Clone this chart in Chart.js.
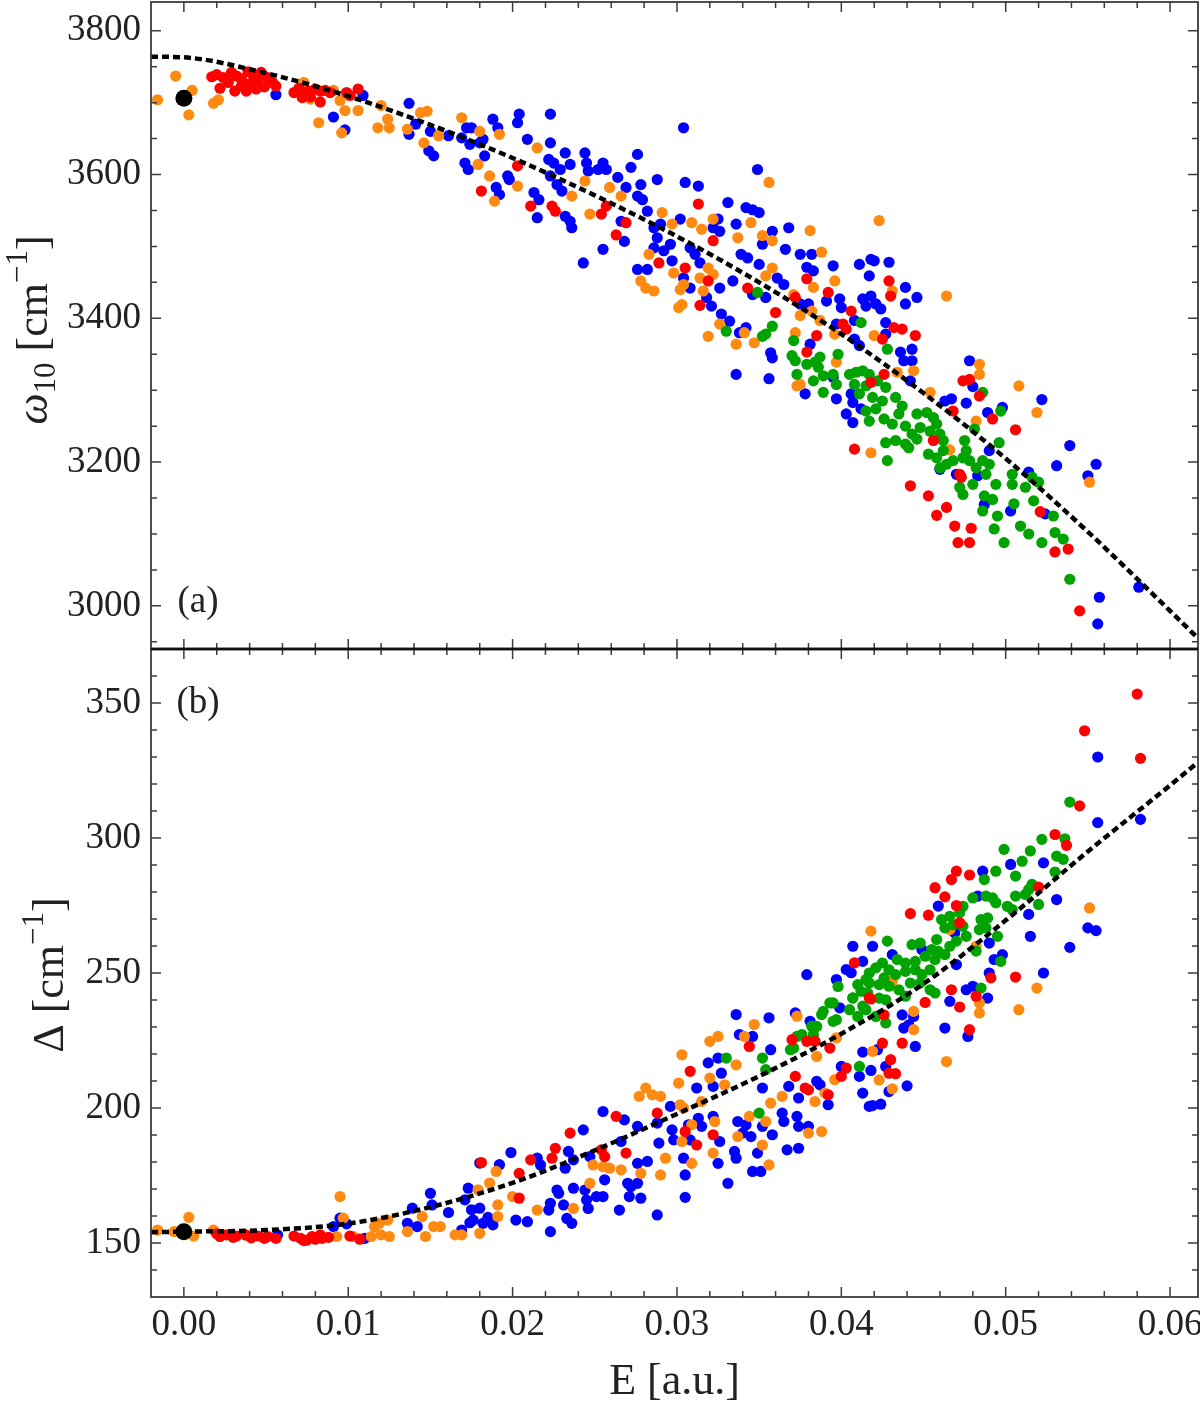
<!DOCTYPE html>
<html>
<head>
<meta charset="utf-8">
<script src="https://cdn.jsdelivr.net/npm/chart.js@4.4.1/dist/chart.umd.min.js"></script>
<style>
  html, body { margin:0; padding:0; background:#fff; overflow:hidden; }
  #wrap { position:relative; width:1200px; height:1401px; }
  canvas { position:absolute; left:0; }
  #top { top:0; }
  #bot { top:647px; }
</style>
</head>
<body>
<div id="wrap">
  <canvas id="top" width="1200" height="651"></canvas>
  <canvas id="bot" width="1200" height="754"></canvas>
</div>
<script>
// ── Shared look ─────────────────────────────────────
const SERIF = '"Liberation Serif", "Times New Roman", serif';
const INK = "#222";
const FRAME = "#3c3c3c";

// ── Axes / ticks ───────────────────────────────────
const X_MIN = -0.002, X_MAX = 0.0617;
const xMajor = [0, 0.01, 0.02, 0.03, 0.04, 0.05, 0.06];
const xMinor = [0.002,0.004,0.006,0.008,0.012,0.014,0.016,0.018,0.022,0.024,0.026,0.028,
                0.032,0.034,0.036,0.038,0.042,0.044,0.046,0.048,0.052,0.054,0.056,0.058];

const topMajor = [3000, 3200, 3400, 3600, 3800];
const topMinor = [2950,3050,3100,3150,3250,3300,3350,3450,3500,3550,3650,3700,3750];
const botMajor = [150, 200, 250, 300, 350];
const botMinor = [140,160,170,180,190,210,220,230,240,260,270,280,290,310,320,330,340,360];

// ── (a) ω10 vs E ───────────────────────────────────
const fitE = [-0.002, 0, 0.005, 0.01, 0.015, 0.02, 0.025, 0.03, 0.035, 0.04, 0.045, 0.05, 0.055, 0.06, 0.0617];
const topFit = [3764, 3763, 3741, 3709, 3669, 3623, 3571, 3514, 3450, 3378, 3296, 3205, 3103, 2993, 2955];
const topBlack = [[0, 3706]];

const topRed = [
[0.0017,3736],[0.0020,3739],[0.0024,3735],[0.0029,3742],[0.0032,3737],[0.0035,3733],[0.0039,3743],[0.0042,3739],
[0.0045,3731],[0.0047,3742],[0.0051,3735],[0.0054,3728],[0.0022,3720],[0.0031,3716],[0.0035,3723],[0.0040,3726],
[0.0044,3719],[0.0049,3722],[0.0056,3723],[0.0038,3716],[0.0027,3728],
[0.0067,3714],[0.0070,3720],[0.0073,3712],[0.0076,3716],[0.0080,3719],[0.0083,3716],[0.0086,3717],[0.0089,3714],
[0.0072,3707],[0.0077,3708],[0.0083,3701],[0.0099,3714],[0.0106,3719],[0.0101,3710],
[0.0203,3612],[0.0181,3577],[0.0211,3556],[0.0224,3556],[0.0226,3549],[0.0254,3545],[0.0257,3556],[0.0269,3533],
[0.0263,3516],[0.0313,3559],[0.0322,3508],[0.0289,3477],[0.0305,3470],[0.0319,3452],[0.0343,3442],[0.0314,3418],
[0.0360,3408],[0.0372,3429],
[0.0429,3452],[0.0430,3431],[0.0432,3387],[0.0437,3385],[0.0445,3376],[0.0425,3371],[0.0406,3410],[0.0401,3392],
[0.0403,3385],[0.0418,3311],[0.0426,3322],[0.0474,3313],[0.0478,3315],[0.0484,3292],[0.0492,3260],[0.0506,3245],
[0.0468,3271],[0.0456,3230],[0.0408,3218],[0.0472,3183],[0.0473,3179],[0.0442,3167],[0.0453,3153],[0.0458,3126],
[0.0464,3137],[0.0469,3111],[0.0479,3108],[0.0471,3088],[0.0478,3088],[0.0521,3131],[0.0530,3075],[0.0538,3079],
[0.0545,2993],[0.0379,3455],[0.0392,3436],[0.0385,3376],[0.0379,3353]
];

const topOrange = [
[-0.0016,3704],[-0.0005,3737],[0.0005,3717],[0.0003,3683],[0.0018,3699],[0.0021,3704],[0.0073,3728],[0.0077,3705],
[0.0082,3672],[0.0095,3703],[0.0098,3689],[0.0106,3689],[0.0096,3658],[0.0120,3696],[0.0118,3665],[0.0125,3665],
[0.0124,3677],[0.0091,3717],
[0.0144,3686],[0.0148,3688],[0.0136,3663],[0.0146,3644],[0.0155,3654],[0.0169,3679],[0.0180,3660],[0.0192,3656],
[0.0179,3614],[0.0186,3598],[0.0203,3584],[0.0189,3563],[0.0215,3637],[0.0244,3591],[0.0259,3582],[0.0266,3570],
[0.0236,3570],[0.0247,3545],[0.0291,3547],[0.0297,3531],[0.0309,3533],[0.0315,3524],[0.0322,3538],[0.0337,3512],
[0.0345,3533],[0.0352,3515],[0.0358,3508],[0.0356,3589],[0.0283,3489],[0.0298,3463],[0.0278,3452],[0.0281,3442],
[0.0286,3438],[0.0302,3440],[0.0304,3447],[0.0301,3415],[0.0303,3419],[0.0314,3456],[0.0319,3470],[0.0316,3438],
[0.0322,3461],[0.0326,3392],[0.0319,3375],[0.0336,3364],[0.0341,3380],[0.0347,3366],[0.0354,3459],[0.0358,3470],
[0.0371,3433],[0.0372,3380],[0.0373,3306],
[0.0423,3536],[0.0388,3492],[0.0396,3452],[0.0431,3438],[0.0464,3431],[0.0420,3376],[0.0397,3339],[0.0434,3325],
[0.0444,3327],[0.0454,3297],[0.0484,3336],[0.0484,3322],[0.0508,3306],[0.0519,3269],[0.0482,3257],[0.0418,3213],
[0.0466,3217],[0.0551,3172],[0.0375,3308],[0.0381,3522],[0.0383,3443],[0.0375,3404],[0.0382,3410],[0.0387,3397],
[0.0396,3378]
];

const topBlue = [
[0.0056,3711],[0.0109,3710],[0.0091,3680],[0.0098,3662],
[0.0137,3699],[0.0137,3656],[0.0141,3670],[0.0150,3660],[0.0149,3633],[0.0152,3626],[0.0161,3654],[0.0169,3651],
[0.0172,3665],[0.0175,3665],[0.0174,3642],[0.0180,3644],[0.0182,3649],[0.0183,3626],[0.0171,3616],[0.0173,3607],
[0.0188,3677],[0.0191,3665],[0.0204,3684],[0.0203,3672],[0.0223,3684],[0.0209,3649],[0.0223,3644],[0.0197,3598],
[0.0198,3593],[0.0190,3582],[0.0192,3572],[0.0213,3575],[0.0216,3565],[0.0215,3540],[0.0222,3621],[0.0225,3616],
[0.0229,3607],[0.0232,3630],[0.0235,3614],[0.0223,3598],[0.0227,3586],[0.0230,3577],[0.0232,3542],[0.0235,3535],
[0.0236,3526],[0.0244,3630],[0.0245,3616],[0.0246,3605],[0.0252,3607],[0.0255,3616],[0.0257,3607],[0.0243,3477],
[0.0255,3496],[0.0264,3596],[0.0269,3582],[0.0272,3610],[0.0276,3628],[0.0278,3586],[0.0276,3570],[0.0279,3565],
[0.0268,3507],[0.0266,3535],[0.0288,3593],[0.0282,3549],[0.0286,3526],[0.0290,3531],[0.0288,3512],[0.0286,3498],
[0.0292,3494],[0.0296,3503],[0.0297,3480],[0.0276,3468],[0.0282,3468],[0.0304,3665],[0.0305,3589],[0.0313,3584],
[0.0302,3538],[0.0308,3498],[0.0311,3489],[0.0314,3477],[0.0308,3442],[0.0304,3456],[0.0322,3526],[0.0326,3521],
[0.0325,3538],[0.0331,3561],[0.0336,3531],[0.0342,3554],[0.0346,3551],[0.0350,3547],[0.0349,3607],[0.0339,3489],
[0.0343,3484],[0.0334,3452],[0.0326,3442],[0.0318,3429],[0.0321,3417],[0.0327,3406],[0.0332,3396],[0.0338,3380],
[0.0342,3387],[0.0346,3433],[0.0354,3429],[0.0358,3521],[0.0352,3503],[0.0366,3496],[0.0368,3526],[0.0350,3475],
[0.0361,3456],[0.0365,3447],[0.0336,3322],[0.0356,3316],[0.0357,3352],[0.0358,3345],
[0.0395,3473],[0.0411,3475],[0.0418,3482],[0.0420,3480],[0.0429,3478],[0.0417,3459],[0.0399,3427],[0.0400,3415],
[0.0413,3427],[0.0418,3431],[0.0421,3420],[0.0424,3413],[0.0415,3417],[0.0397,3392],[0.0408,3397],[0.0427,3394],
[0.0427,3378],[0.0439,3443],[0.0446,3429],[0.0439,3420],[0.0408,3371],[0.0411,3362],[0.0436,3353],[0.0438,3341],
[0.0443,3357],[0.0443,3341],[0.0442,3313],[0.0395,3318],[0.0406,3295],[0.0407,3283],[0.0403,3267],[0.0407,3255],
[0.0412,3274],[0.0378,3295],[0.0397,3288],[0.0478,3341],[0.0480,3305],[0.0463,3285],[0.0467,3288],[0.0476,3282],
[0.0489,3269],[0.0498,3276],[0.0522,3287],[0.0539,3223],[0.0531,3195],[0.0555,3197],[0.0550,3181],[0.0514,3186],
[0.0460,3190],[0.0470,3183],[0.0483,3181],[0.0490,3216],[0.0487,3141],[0.0503,3132],[0.0524,3128],[0.0557,3012],
[0.0556,2975],[0.0581,3026],[0.0375,3489],[0.0382,3489],[0.0379,3471],[0.0383,3466],[0.0375,3420],[0.0380,3420],
[0.0391,3424],[0.0381,3364]
];

const topGreen = [
[0.0349,3436],[0.0330,3382],[0.0352,3375],[0.0354,3378],[0.0358,3389],[0.0371,3369],[0.0370,3348],[0.0372,3341],
[0.0373,3322],
[0.0379,3336],[0.0384,3339],[0.0387,3346],[0.0386,3332],[0.0383,3313],[0.0389,3320],[0.0395,3322],[0.0397,3308],
[0.0389,3297],[0.0398,3350],[0.0412,3394],[0.0428,3357],[0.0405,3322],[0.0409,3325],[0.0413,3327],[0.0417,3322],
[0.0408,3308],[0.0415,3306],[0.0422,3313],[0.0427,3304],[0.0411,3295],[0.0419,3290],[0.0425,3285],[0.0433,3290],
[0.0415,3271],[0.0421,3274],[0.0417,3257],[0.0426,3260],[0.0435,3267],[0.0437,3278],[0.0431,3253],[0.0439,3250],
[0.0446,3267],[0.0452,3269],[0.0456,3262],[0.0458,3253],[0.0443,3239],[0.0448,3248],[0.0454,3243],[0.0460,3239],
[0.0462,3230],[0.0427,3227],[0.0433,3230],[0.0439,3225],[0.0441,3220],[0.0446,3232],[0.0453,3211],[0.0458,3206],
[0.0462,3216],[0.0460,3192],[0.0464,3197],[0.0468,3202],[0.0475,3230],[0.0476,3216],[0.0474,3206],[0.0478,3202],
[0.0482,3192],[0.0486,3202],[0.0490,3197],[0.0488,3183],[0.0481,3246],[0.0496,3227],[0.0497,3271],[0.0486,3297],
[0.0428,3202],[0.0472,3165],[0.0474,3155],[0.0480,3169],[0.0487,3153],[0.0492,3148],[0.0494,3169],[0.0504,3169],
[0.0504,3183],[0.0505,3142],[0.0512,3165],[0.0516,3179],[0.0520,3172],[0.0517,3146],[0.0486,3132],[0.0495,3125],
[0.0493,3107],[0.0499,3088],[0.0509,3111],[0.0514,3100],[0.0522,3088],[0.0529,3125],[0.0530,3102],[0.0535,3093],
[0.0539,3037]
];

// ── (b) Δ vs E ─────────────────────────────────────
const botFit = [154.0, 154.2, 154.8, 157.2, 163.3, 172.3, 184.3, 197.8, 211.8, 227.5, 246.0, 269.5, 295.0, 319.5, 328.0];
const botBlack = [[0, 154.2]];

const botRed = [
[0.0020,153.4],[0.0026,153.0],[0.0032,152.6],[0.0038,152.9],[0.0045,152.6],[0.0051,152.4],[0.0056,151.7],[0.0022,152.4],
[0.0030,152.1],[0.0041,151.9],[0.0049,151.7],
[0.0067,152.6],[0.0071,151.7],[0.0075,151.1],[0.0080,151.4],[0.0084,151.7],[0.0088,152.1],[0.0083,153.0],[0.0078,152.4],
[0.0073,150.9],[0.0101,152.6],[0.0107,151.4],[0.0181,179.8],
[0.0204,175.8],[0.0204,166.6],[0.0211,180.8],[0.0226,185.1],[0.0224,181.4],[0.0235,190.7],[0.0254,184.5],[0.0256,182.0],
[0.0263,196.9],[0.0269,183.3],[0.0288,198.1],[0.0305,191.3],[0.0308,213.6],[0.0312,186.3],[0.0322,190.1],[0.0344,222.8],
[0.0370,225.3],[0.0379,224.7],[0.0384,224.7],[0.0372,211.7],[0.0378,207.4],[0.0380,206.7],[0.0392,204.9],[0.0400,211.7],
[0.0403,214.8],[0.0408,253.8],[0.0417,240.8],
[0.0580,353.3],[0.0548,339.7],[0.0582,329.5],[0.0545,311.9],[0.0530,301.3],[0.0537,297.3],[0.0520,281.8],[0.0470,287.7],
[0.0467,284.6],[0.0478,286.3],[0.0457,281.6],[0.0463,278.2],[0.0470,275.0],[0.0442,272.0],[0.0453,271.4],[0.0472,268.6],
[0.0418,240.4],[0.0426,234.5],[0.0451,239.1],[0.0467,243.8],[0.0472,237.4],[0.0482,241.4],[0.0491,248.2],[0.0506,248.5],
[0.0478,229.0],[0.0437,224.0],[0.0425,224.0],[0.0430,217.9],[0.0429,212.9],[0.0433,212.7],[0.0393,222.2]
];

const botOrange = [
[-0.0016,154.8],[0.0003,159.5],[0.0006,152.6],[-0.0006,154.2],[0.0018,154.8],[0.0095,167.2],[0.0097,159.2],[0.0093,152.4],
[0.0103,152.4],[0.0116,156.1],[0.0119,157.3],[0.0124,158.5],[0.0120,153.0],[0.0125,152.4],[0.0114,152.4],[0.0136,154.2],
[0.0145,159.8],[0.0147,152.4],[0.0152,156.1],[0.0156,156.1],[0.0165,153.0],[0.0169,153.0],[0.0180,153.6],[0.0179,169.7],
[0.0186,172.2],[0.0190,176.5],[0.0191,164.1],[0.0191,159.8],
[0.0200,167.2],[0.0215,162.2],[0.0237,162.8],[0.0247,172.1],[0.0249,178.9],[0.0255,178.3],[0.0259,177.7],[0.0266,177.1],
[0.0278,175.8],[0.0290,175.2],[0.0293,181.4],[0.0277,204.3],[0.0281,207.4],[0.0285,204.9],[0.0290,204.3],[0.0301,209.2],
[0.0303,219.7],[0.0302,201.2],[0.0304,200.0],[0.0303,187.6],[0.0309,193.8],[0.0309,179.5],[0.0315,202.4],[0.0320,224.7],
[0.0325,226.5],[0.0322,183.3],[0.0323,195.0],[0.0320,211.1],[0.0329,208.6],[0.0336,216.0],[0.0337,189.4],[0.0341,226.5],
[0.0347,230.9],[0.0344,196.9],[0.0352,186.3],[0.0354,195.0],[0.0356,178.9],[0.0357,201.8],[0.0364,204.3],[0.0373,234.0],
[0.0380,190.7],[0.0388,191.3],[0.0384,202.4],[0.0385,219.1],[0.0390,205.5],[0.0396,210.5],[0.0397,226.0],
[0.0418,265.5],[0.0466,266.1],[0.0482,259.9],[0.0431,246.9],[0.0444,235.8],[0.0444,229.0],[0.0484,238.9],[0.0484,235.2],
[0.0508,236.4],[0.0519,244.4],[0.0551,274.1],[0.0464,217.2],[0.0419,221.0],[0.0423,210.4],[0.0431,207.1]
];

const botBlue = [
[0.0057,153.0],[0.0091,156.1],[0.0095,159.2],[0.0099,157.1],[0.0110,151.7],[0.0136,157.3],[0.0139,162.9],[0.0142,156.1],
[0.0150,168.4],[0.0151,164.1],[0.0161,161.3],[0.0169,154.8],[0.0173,170.3],[0.0171,166.0],[0.0175,162.3],[0.0180,162.9],
[0.0176,158.5],[0.0182,157.3],[0.0188,156.7],[0.0180,179.6],[0.0192,179.0],[0.0174,157.5],[0.0185,159.5],
[0.0199,183.5],[0.0202,158.5],[0.0209,157.9],[0.0215,181.4],[0.0217,178.9],[0.0223,154.2],[0.0223,164.7],[0.0222,162.2],
[0.0227,169.6],[0.0228,168.4],[0.0231,164.1],[0.0232,177.7],[0.0233,159.1],[0.0236,157.3],[0.0234,183.9],[0.0237,180.8],
[0.0237,170.3],[0.0243,191.9],[0.0244,169.6],[0.0245,165.9],[0.0246,162.8],[0.0247,182.0],[0.0251,167.2],[0.0255,167.2],
[0.0255,198.7],[0.0256,173.4],[0.0265,162.2],[0.0266,187.6],[0.0268,195.6],[0.0270,172.1],[0.0272,170.9],[0.0276,172.1],
[0.0271,167.2],[0.0276,193.2],[0.0276,179.5],[0.0282,180.2],[0.0278,166.6],[0.0288,160.4],[0.0288,194.4],[0.0289,187.0],
[0.0296,200.6],[0.0297,191.9],[0.0298,188.2],[0.0304,181.4],[0.0305,175.2],[0.0305,166.9],[0.0307,193.8],[0.0308,188.2],
[0.0312,207.4],[0.0315,193.2],[0.0313,196.2],[0.0319,216.7],[0.0322,208.0],[0.0322,196.9],[0.0325,218.5],[0.0327,212.9],
[0.0325,179.5],[0.0326,187.6],[0.0331,172.1],[0.0335,183.9],[0.0336,181.4],[0.0336,234.6],[0.0337,195.0],[0.0340,190.7],
[0.0338,227.2],[0.0342,193.8],[0.0345,189.4],[0.0346,176.5],[0.0351,176.5],[0.0349,183.3],[0.0352,207.4],[0.0352,193.2],
[0.0356,233.4],[0.0357,221.6],[0.0358,190.1],[0.0364,198.1],[0.0365,195.0],[0.0367,184.5],[0.0374,185.1],[0.0372,235.2],
[0.0373,196.9],[0.0374,193.2],[0.0379,249.4],[0.0380,193.2],[0.0374,203.7],[0.0368,208.0],[0.0381,232.1],[0.0385,209.9],
[0.0387,208.6],[0.0392,201.2],[0.0397,247.6],[0.0400,215.4],[0.0403,251.3],[0.0406,250.1],[0.0411,211.7],[0.0413,205.5],
[0.0417,200.6],[0.0399,237.1],[0.0346,226.5],
[0.0407,259.9],[0.0419,259.9],[0.0413,254.3],[0.0431,256.8],[0.0449,258.7],[0.0459,274.8],[0.0469,264.9],[0.0470,253.1],
[0.0486,287.7],[0.0483,278.5],[0.0490,261.1],[0.0493,255.0],[0.0498,256.8],[0.0503,290.2],[0.0514,271.7],[0.0515,263.6],
[0.0523,290.8],[0.0531,277.2],[0.0523,250.0],[0.0539,259.5],[0.0550,266.7],[0.0555,265.7],[0.0556,330.0],[0.0556,305.7],
[0.0582,306.9],[0.0463,229.6],[0.0466,239.5],[0.0476,243.8],[0.0480,245.1],[0.0489,240.7],[0.0490,250.0],[0.0444,233.9],
[0.0437,234.5],[0.0441,230.8],[0.0438,229.6],[0.0445,222.8],[0.0477,226.5],
[0.0422,221.6],[0.0413,220.7],[0.0427,215.4],[0.0418,213.9],[0.0440,208.2],[0.0429,206.1],[0.0419,200.9],[0.0424,201.4]
];

const botGreen = [
[0.0330,218.5],[0.0350,198.1],[0.0352,218.5],[0.0354,214.2],[0.0369,221.6],[0.0373,226.5],[0.0376,227.2],[0.0382,230.3],
[0.0388,234.6],[0.0393,238.9],[0.0395,232.1],[0.0411,215.4],[0.0407,240.8],[0.0412,243.2],[0.0415,247.6],[0.0413,237.7],
[0.0539,313.3],[0.0522,299.5],[0.0536,299.7],[0.0531,293.3],[0.0535,292.1],[0.0499,295.8],[0.0515,295.2],[0.0510,291.4],
[0.0494,287.7],[0.0487,284.6],[0.0506,285.9],[0.0530,287.4],[0.0516,282.8],[0.0480,277.8],[0.0488,278.5],[0.0492,277.8],
[0.0494,276.0],[0.0506,278.5],[0.0512,279.1],[0.0501,274.7],[0.0504,273.5],[0.0514,280.9],[0.0520,275.4],[0.0474,274.7],
[0.0472,272.3],[0.0466,271.0],[0.0461,269.8],[0.0463,266.7],[0.0468,267.9],[0.0474,267.3],[0.0476,263.6],[0.0470,261.8],
[0.0485,269.8],[0.0489,270.4],[0.0484,266.1],[0.0488,266.7],[0.0482,258.1],[0.0495,263.6],[0.0497,254.3],[0.0458,262.4],
[0.0455,258.7],[0.0448,261.1],[0.0443,260.5],[0.0428,261.8],[0.0466,259.9],[0.0463,256.8],[0.0459,258.0],[0.0451,256.2],
[0.0457,255.0],[0.0445,254.3],[0.0439,253.7],[0.0434,255.0],[0.0425,253.7],[0.0429,251.2],[0.0421,251.9],[0.0417,250.0],
[0.0426,248.2],[0.0433,249.4],[0.0439,250.6],[0.0445,251.2],[0.0449,249.4],[0.0454,251.2],[0.0442,246.3],[0.0448,246.3],
[0.0454,243.8],[0.0457,242.6],[0.0435,243.8],[0.0429,245.1],[0.0423,245.7],[0.0417,246.3],[0.0439,241.4],[0.0423,240.7],
[0.0427,240.1],[0.0416,242.6],[0.0410,245.7],[0.0407,240.7],[0.0405,236.4],[0.0415,236.4],[0.0410,233.9],[0.0421,233.9],
[0.0427,231.5],[0.0395,238.9],[0.0389,235.8],[0.0397,232.7],[0.0385,230.2],[0.0383,227.1],[0.0371,222.2],[0.0485,244.4],
[0.0398,245.0]
];

// ── Helpers ────────────────────────────────────────
const pts = arr => arr.map(p => ({ x: p[0], y: p[1] }));

function scatterSet(arr, color, order, radius) {
  return {
    data: pts(arr),
    backgroundColor: color,
    borderWidth: 0,
    pointRadius: radius || 5.6,
    pointHoverRadius: radius || 5.6,
    order: order,
  };
}

function fitSet(vals) {
  return {
    data: fitE.map((e, i) => ({ x: e, y: vals[i] })),
    showLine: true,
    borderColor: "#000",
    borderWidth: 4.5,
    borderDash: [7, 4],
    pointRadius: 0,
    fill: false,
    cubicInterpolationMode: "monotone",
    order: 0,
  };
}

// frame + inward ticks on all four sides, separator drawn a bit heavier
const frameTicks = {
  id: "frameTicks",
  afterDraw(chart, args, o) {
    const { ctx, chartArea: a, scales: { x, y } } = chart;
    ctx.save();
    ctx.strokeStyle = FRAME;
    ctx.lineWidth = 1.5;
    ctx.beginPath();
    const xt = (vals, len) => vals.forEach(v => {
      const px = x.getPixelForValue(v);
      ctx.moveTo(px, a.top); ctx.lineTo(px, a.top + len);
      ctx.moveTo(px, a.bottom); ctx.lineTo(px, a.bottom - len);
    });
    const yt = (vals, len) => vals.forEach(v => {
      const py = y.getPixelForValue(v);
      ctx.moveTo(a.left, py); ctx.lineTo(a.left + len, py);
      ctx.moveTo(a.right, py); ctx.lineTo(a.right - len, py);
    });
    xt(xMajor, 10); xt(xMinor, 6);
    yt(o.yMajor, 10); yt(o.yMinor, 6);
    ctx.stroke();

    ctx.lineWidth = 1.8;
    ctx.strokeRect(a.left, a.top, a.right - a.left, a.bottom - a.top);
    ctx.strokeStyle = "#111";
    ctx.lineWidth = 2.6;
    ctx.beginPath();
    const sy = o.sep === "bottom" ? a.bottom : a.top;
    ctx.moveTo(a.left, sy); ctx.lineTo(a.right, sy);
    ctx.stroke();
    ctx.restore();
  }
};

// rotated y title with sub/superscripts, panel tag, x title
const labels = {
  id: "labels",
  afterDraw(chart, args, o) {
    const ctx = chart.ctx;
    const size = 44;
    ctx.save();
    ctx.fillStyle = INK;
    ctx.textBaseline = "alphabetic";
    ctx.textAlign = "left";
    const fontOf = p => (p.it ? "italic " : "") + Math.round(size * (p.s || 1)) + "px " + SERIF;
    let total = 0;
    o.yTitle.forEach(p => { ctx.font = fontOf(p); p.w = ctx.measureText(p.t).width; total += p.w; });
    ctx.save();
    ctx.translate(o.yTitlePos[0], o.yTitlePos[1]);
    ctx.rotate(-Math.PI / 2);
    let cx = -total / 2;
    o.yTitle.forEach(p => { ctx.font = fontOf(p); ctx.fillText(p.t, cx, (p.dy || 0) * size); cx += p.w; });
    ctx.restore();

    ctx.font = "37px " + SERIF;
    ctx.textAlign = "center";
    ctx.textBaseline = "middle";
    ctx.fillText(o.tag, o.tagPos[0], o.tagPos[1]);

    if (o.xTitle) {
      ctx.font = "44px " + SERIF;
      ctx.textBaseline = "alphabetic";
      const a = chart.chartArea;
      ctx.fillText(o.xTitle, (a.left + a.right) / 2, o.xTitleY);
    }
    ctx.restore();
  }
};

function yScale(min, max, major) {
  return {
    type: "linear",
    min: min, max: max,
    grid: { display: false, drawTicks: false },
    border: { display: false },
    afterBuildTicks: s => { s.ticks = major.map(v => ({ value: v })); },
    afterFit: s => { s.width = 151; s.paddingTop = 0; s.paddingBottom = 0; },
    ticks: { font: { family: SERIF, size: 37 }, color: INK, padding: 10, callback: v => String(v) },
  };
}

const baseOptions = {
  responsive: false,
  maintainAspectRatio: false,
  animation: false,
  events: [],
};

// ── Top panel ──────────────────────────────────────
new Chart(document.getElementById("top"), {
  type: "scatter",
  data: {
    datasets: [
      fitSet(topFit),
      scatterSet(topBlack, "#000", 0, 8.5),
      scatterSet(topRed, "#ff0000", 1),
      scatterSet(topGreen, "#00a300", 2),
      scatterSet(topOrange, "#ff8a12", 3),
      scatterSet(topBlue, "#0000ff", 4),
    ],
  },
  options: {
    ...baseOptions,
    layout: { autoPadding: false, padding: { left: 0, top: 2, right: 2, bottom: 2 } },
    plugins: {
      legend: { display: false },
      tooltip: { enabled: false },
      frameTicks: { yMajor: topMajor, yMinor: topMinor, sep: "bottom" },
      labels: {
        yTitle: [{ t: "ω", it: true }, { t: "10", s: 0.7, dy: 0.18 }, { t: " [cm" }, { t: "−1", s: 0.7, dy: -0.45 }, { t: "]" }],
        yTitlePos: [47, 330],
        tag: "(a)", tagPos: [198, 602],
      },
    },
    scales: {
      x: { type: "linear", min: X_MIN, max: X_MAX, display: false },
      y: yScale(2940, 3840, topMajor),
    },
  },
  plugins: [frameTicks, labels],
});

// ── Bottom panel ───────────────────────────────────
new Chart(document.getElementById("bot"), {
  type: "scatter",
  data: {
    datasets: [
      fitSet(botFit),
      scatterSet(botBlack, "#000", 0, 8.5),
      scatterSet(botRed, "#ff0000", 1),
      scatterSet(botGreen, "#00a300", 2),
      scatterSet(botOrange, "#ff8a12", 3),
      scatterSet(botBlue, "#0000ff", 4),
    ],
  },
  options: {
    ...baseOptions,
    layout: { autoPadding: false, padding: { left: 0, top: 2, right: 2, bottom: 0 } },
    plugins: {
      legend: { display: false },
      tooltip: { enabled: false },
      frameTicks: { yMajor: botMajor, yMinor: botMinor, sep: "top" },
      labels: {
        yTitle: [{ t: "Δ" }, { t: " [cm" }, { t: "−1", s: 0.7, dy: -0.45 }, { t: "]" }],
        yTitlePos: [63, 328],
        tag: "(b)", tagPos: [198, 56],
        xTitle: "E [a.u.]", xTitleY: 747,
      },
    },
    scales: {
      x: {
        type: "linear", min: X_MIN, max: X_MAX,
        grid: { display: false, drawTicks: false },
        border: { display: false },
        afterBuildTicks: s => { s.ticks = xMajor.map(v => ({ value: v })); },
        afterFit: s => { s.height = 104; s.paddingLeft = 0; s.paddingRight = 0; },
        ticks: { font: { family: SERIF, size: 37 }, color: INK, padding: 6, autoSkip: false, maxRotation: 0,
                 callback: v => Number(v).toFixed(2) },
      },
      y: yScale(130, 370, botMajor),
    },
  },
  plugins: [frameTicks, labels],
});
</script>
</body>
</html>
